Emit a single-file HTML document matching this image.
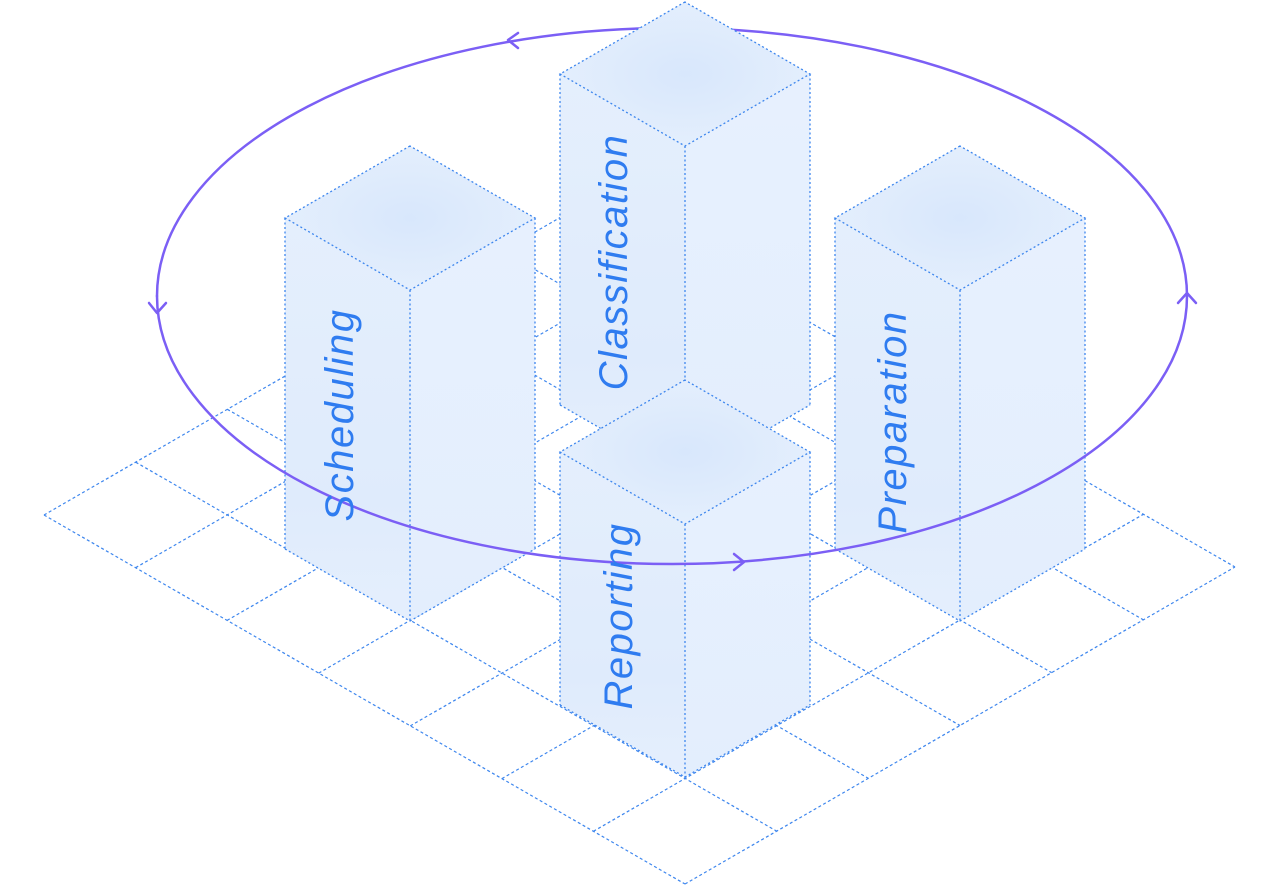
<!DOCTYPE html>
<html><head><meta charset="utf-8"><style>
html,body{margin:0;padding:0;background:#fff;}
svg{display:block}
text{font-family:"Liberation Sans","DejaVu Sans",sans-serif;font-style:italic;font-size:40px;fill:#2f7cf0;letter-spacing:1.5px}
</style></head><body>
<svg width="1280" height="886" viewBox="0 0 1280 886" xmlns="http://www.w3.org/2000/svg">
<defs>
<radialGradient id="tg" cx="50%" cy="50%" r="60%"><stop offset="0" stop-color="#d8e7fc"/><stop offset="1" stop-color="#e6f0fd"/></radialGradient>
<linearGradient id="lf" x1="0" y1="0" x2="0" y2="1"><stop offset="0" stop-color="#e6f0fd"/><stop offset="0.75" stop-color="#dfebfc"/><stop offset="1" stop-color="#e5effd"/></linearGradient>
<linearGradient id="rf" x1="0" y1="0" x2="0" y2="1"><stop offset="0" stop-color="#e8f1fe"/><stop offset="1" stop-color="#e3eefd"/></linearGradient>
<g id="box">
  <polygon points="0,0 -125,72 -125,403 0,475 0,144" fill="url(#lf)"/>
  <polygon points="0,0 125,72 125,403 0,475 0,144" fill="url(#rf)"/>
  <polygon points="0,0 -125,72 0,144 125,72" fill="url(#tg)"/>
  <g fill="none" stroke="#3d86ee" stroke-width="1.3" stroke-dasharray="2,2.5">
    <polygon points="0,0 -125,72 0,144 125,72"/>
    <line x1="-125" y1="72" x2="-125" y2="403"/>
    <line x1="0" y1="144" x2="0" y2="475"/>
    <line x1="125" y1="72" x2="125" y2="403"/>
    <polyline points="-125,403 0,475 125,403"/>
  </g>
</g>
<g id="boxs">
  <polygon points="0,0 -125,72 -125,325 0,397 0,144" fill="url(#lf)"/>
  <polygon points="0,0 125,72 125,325 0,397 0,144" fill="url(#rf)"/>
  <polygon points="0,0 -125,72 0,144 125,72" fill="url(#tg)"/>
  <g fill="none" stroke="#3d86ee" stroke-width="1.3" stroke-dasharray="2,2.5">
    <polygon points="0,0 -125,72 0,144 125,72"/>
    <line x1="-125" y1="72" x2="-125" y2="325"/>
    <line x1="0" y1="144" x2="0" y2="397"/>
    <line x1="125" y1="72" x2="125" y2="325"/>
    <polyline points="-125,325 0,397 125,325"/>
  </g>
</g>
</defs>
<g stroke="#3d86ee" stroke-width="1.2" stroke-dasharray="3,2.5" fill="none">
<line x1="44" y1="515" x2="685" y2="884"/>
<line x1="135.7" y1="462.2" x2="776.7" y2="831.2"/>
<line x1="227.3" y1="409.3" x2="868.3" y2="778.3"/>
<line x1="319" y1="356.5" x2="960" y2="725.5"/>
<line x1="410.7" y1="303.7" x2="1051.7" y2="672.7"/>
<line x1="502.3" y1="250.8" x2="1143.3" y2="619.8"/>
<line x1="594" y1="198" x2="1235" y2="567"/>
<line x1="44" y1="515" x2="594" y2="198"/>
<line x1="135.6" y1="567.7" x2="685.6" y2="250.7"/>
<line x1="227.1" y1="620.4" x2="777.1" y2="303.4"/>
<line x1="318.7" y1="673.1" x2="868.7" y2="356.1"/>
<line x1="410.3" y1="725.9" x2="960.3" y2="408.9"/>
<line x1="501.9" y1="778.6" x2="1051.9" y2="461.6"/>
<line x1="593.4" y1="831.3" x2="1143.4" y2="514.3"/>
<line x1="685" y1="884" x2="1235" y2="567"/>
</g>
<g fill="none" stroke="#7b5ff5" stroke-width="2.5" stroke-linecap="round" stroke-linejoin="round">
<path d="M157,296 A515,268 0 0 1 1187,296"/>
<polyline points="518,33 508,40 518,48"/>
</g>
<use href="#box" x="685" y="2"/>
<use href="#box" x="410" y="146"/>
<use href="#box" x="960" y="146"/>
<use href="#boxs" x="685" y="380"/>
<g fill="none" stroke="#7b5ff5" stroke-width="2.5" stroke-linecap="round" stroke-linejoin="round">
<path d="M157,296 A515,268 0 0 0 1187,296"/>
<polyline points="149,303 157,313 166,303"/>
<polyline points="734,554 744,562 734,570"/>
<polyline points="1178,303 1187,293 1196,303"/>
</g>
<text transform="translate(353,415) rotate(-90)" text-anchor="middle">Scheduling</text>
<text transform="translate(627,262) rotate(-90)" text-anchor="middle">Classification</text>
<text transform="translate(906,422) rotate(-90)" text-anchor="middle">Preparation</text>
<text transform="translate(632,616) rotate(-90)" text-anchor="middle">Reporting</text>
</svg>
</body></html>
